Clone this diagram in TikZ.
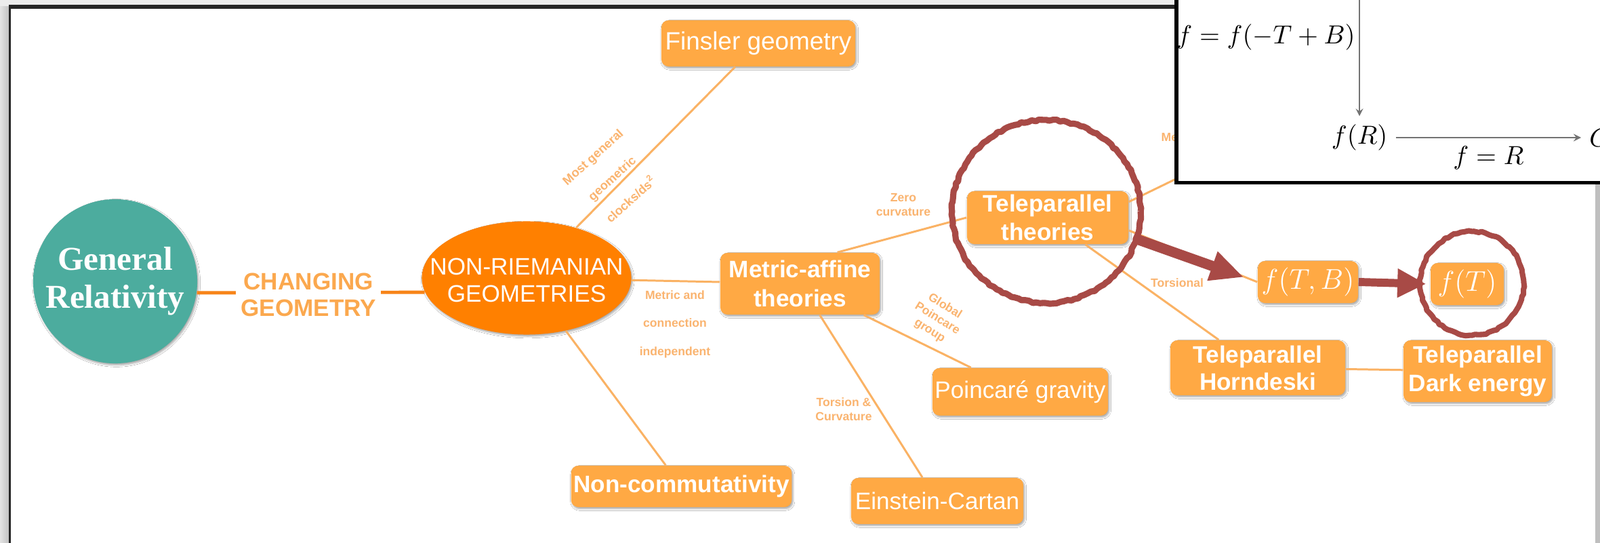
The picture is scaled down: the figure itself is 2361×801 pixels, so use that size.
\documentclass[tikz,border=0pt]{standalone}
\usepackage{fontspec}
\setmainfont{Liberation Serif}
\setsansfont{Liberation Sans}
\usetikzlibrary{shapes.geometric, shadows.blur, arrows.meta, decorations.pathmorphing}

\definecolor{grteal}{RGB}{76,172,158}
\definecolor{nrorange}{RGB}{255,128,0}
\definecolor{boxor}{RGB}{255,169,68}
\definecolor{linkor}{RGB}{250,178,100}
\definecolor{lblor}{RGB}{250,180,112}
\definecolor{gmor}{RGB}{247,132,24}
\definecolor{chor}{RGB}{251,168,78}
\definecolor{ringred}{RGB}{168,74,70}
\definecolor{framegray}{RGB}{236,236,236}

\begin{document}
\begin{tikzpicture}[x=0.01cm, y=-0.01cm, >=stealth,
    softshadow/.style={blur shadow={shadow xshift=0.5pt, shadow yshift=-0.7pt, shadow blur radius=0.8pt, shadow opacity=35}},
    box/.style={rectangle, rounded corners=3pt, fill=boxor, text=white, align=center, inner sep=1pt,
        font=\sffamily\fontsize{10}{12}\selectfont, softshadow},
    bbox/.style={box, font=\sffamily\bfseries\fontsize{10}{12}\selectfont},
    mbox/.style={box, font=\fontsize{11.5}{14}\selectfont},
    lbl/.style={text=lblor, font=\sffamily\bfseries\fontsize{5}{6}\selectfont, align=center, inner sep=0pt},
    link/.style={draw=linkor, line width=0.85pt},
    gmlink/.style={draw=gmor, line width=1.4pt},
    ring/.style={draw=ringred, line join=round, decorate, decoration={random steps, segment length=1.5pt, amplitude=0.35pt}},
    inmath/.style={font=\fontsize{11}{13}\selectfont},
    inarrow/.style={->, draw=black!55, line width=0.4pt}]
    \useasboundingbox (0,0) rectangle (2361,801);
    \clip (0,0) rectangle (2361,801);

    % 背景与幻灯片边框
    \fill[framegray] (0,0) rectangle (2361,801);
    \shade[left color=gray!22, right color=gray!50] (0,10) rectangle (14,801);
    \fill[white] (14,10) rectangle (2354,820);
    \fill[gray!50] (2354,10) rectangle (2361,801);
    \draw[black!85, line width=1.7pt] (13,10) -- (2354,10);
    \draw[black!85, line width=0.85pt] (14.5,10) -- (14.5,820);

    % 中心节点
    \node[circle, fill=grteal, minimum size=2.42cm, inner sep=0pt, text=white, align=center,
        font=\bfseries\fontsize{14}{16}\selectfont, softshadow] (GR) at (170,415) {General\\Relativity};
    \node[ellipse, fill=nrorange, minimum width=3.09cm, minimum height=1.67cm, inner sep=0pt, softshadow] (NR) at (777,410) {};
    \node[text=white, align=center, font=\sffamily\fontsize{10}{11.4}\selectfont] (NRtxt) at (777,413) {NON-RIEMANIAN\\GEOMETRIES};

    % 分支节点
    \node[box, font=\sffamily\fontsize{10.5}{12}\selectfont, minimum width=2.86cm, minimum height=0.68cm] (Fin) at (1119,64) {Finsler geometry};
    \node[bbox, minimum width=2.35cm, minimum height=0.91cm] (MA) at (1180.5,418.5) {Metric-affine\\theories};
    \node[bbox, minimum width=3.25cm, minimum height=0.61cm] (NC) at (1005.5,717.5) {Non-commutativity};
    \node[bbox, minimum width=2.38cm, minimum height=0.78cm] (TP) at (1546,321) {Teleparallel\\theories};
    \node[box, minimum width=2.55cm, minimum height=0.70cm] (PG) at (1505.5,578) {Poincaré gravity};
    \node[box, minimum width=2.54cm, minimum height=0.68cm] (EC) at (1383,739) {Einstein-Cartan};
    \node[mbox, minimum width=1.48cm, minimum height=0.62cm] (fTB) at (1930,416) {$f(T,B)$};
    \node[mbox, minimum width=1.08cm, minimum height=0.62cm] (fT) at (2165,419) {$f(T)$};
    \node[bbox, font=\sffamily\bfseries\fontsize{10}{11.4}\selectfont, minimum width=2.58cm, minimum height=0.81cm] (TH) at (1856,542.5) {Teleparallel\\Horndeski};
    \node[bbox, minimum width=2.19cm, minimum height=0.91cm] (TDE) at (2180.5,547.5) {Teleparallel\\Dark energy};
    \coordinate (TPhid) at (1801,232);

    % 连线
    \draw[gmlink] (GR.-8.1) -- node[pos=0.49, yshift=-1pt, fill=white, inner sep=2pt, text=chor, align=center,
        font=\sffamily\bfseries\fontsize{10}{11}\selectfont] (CG) {CHANGING\\GEOMETRY} (NR.188.4);
    \draw[link] (NR) -- (Fin);
    \draw[link] (NR) -- (MA);
    \draw[link] (NR) -- (NC);
    \draw[link] (MA.40) -- (TP.west);
    \draw[link] (MA) -- (PG);
    \draw[link] (MA) -- (EC);
    \draw[link] (TP.11) -- (TPhid);
    \draw[link] (TP.-9.5) -- (fTB.west);
    \draw[link] (TP) -- (TH);
    \draw[link] (TH) -- (TDE);

    % 连线标注
    \node[lbl, rotate=42, font=\sffamily\bfseries\fontsize{5.2}{12}\selectfont] (LbFin) at (903,263) {Most general\\geometric\\clocks/ds\textsuperscript{2}};
    \node[lbl, font=\sffamily\bfseries\fontsize{5}{11.8}\selectfont] (LbMA) at (996,478) {Metric and\\connection\\independent};
    \node[lbl] (LbTP) at (1333,302) {Zero\\curvature};
    \node[lbl, rotate=-32] (LbPG) at (1383,470) {Global\\Poincare\\group};
    \node[lbl] (LbEC) at (1245,604) {Torsion \&\\Curvature};
    \node[lbl] (LbTor) at (1737,417) {Torsional};
    \node[lbl, anchor=west] (LbMe) at (1713,203) {Me};

    % 红色箭头与圈
    \draw[ringred, line width=4.3pt, -{Triangle[length=14pt, width=12pt]}, shorten <=3pt, shorten >=6pt] (TP.-13.7) -- (fTB.west);
    \draw[ringred, line width=3.4pt, -{Triangle[length=12pt, width=11.4pt]}, shorten >=1.7pt] (fTB.east) -- (fT.west);
    \draw[ring, line width=2.6pt] (1544,312) ellipse [x radius=1.39cm, y radius=1.35cm];
    \draw[ring, line width=2.3pt] (2172,418) circle [radius=0.765cm];

    % 插图
    \draw[black, line width=1.6pt, fill=white] (1736,-20) rectangle (2400,269.5);
    \node[inmath] (eqTB) at (1868,55) {$f=f(-T+B)$};
    \coordinate (topR) at (2006,-10);
    \node[inmath] (fR) at (2006,203) {$f(R)$};
    \node[inmath, anchor=west] (Gin) at (2333,203) {$G$};
    \draw[inarrow] (topR) -- (fR);
    \draw[inarrow] (fR) -- node[below, inmath] (fRlbl) {$f=R$} (Gin);
\end{tikzpicture}
\end{document}
